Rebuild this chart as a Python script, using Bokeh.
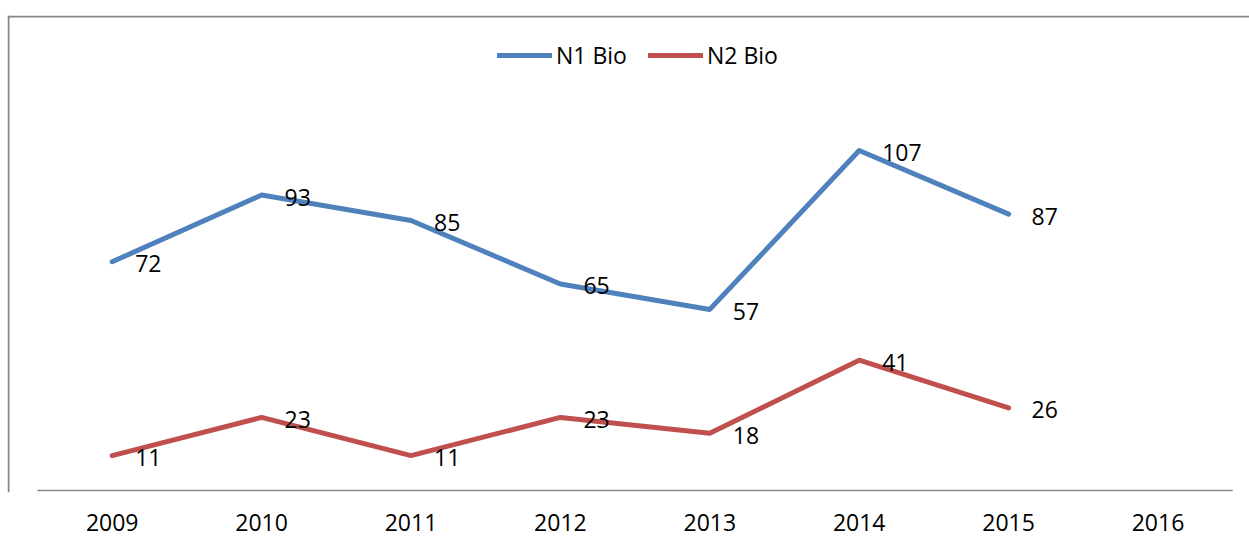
from bokeh.plotting import figure
from bokeh.models import Range1d, Span, Legend, LegendItem, FixedTicker, ColumnDataSource
from bokeh.core.properties import value
from bokeh.embed import file_html
from bokeh.resources import INLINE

years = ["2009", "2010", "2011", "2012", "2013", "2014", "2015", "2016"]
n1_bio = [72, 93, 85, 65, 57, 107, 87]
n2_bio = [11, 23, 11, 23, 18, 41, 26]

BLUE = "#4F81BD"
RED = "#C0504D"
GRAY = "#878787"
FONT = value("Open Sans")

PX_X = 149.4      # pixels per category
PX_Y = 3.177      # pixels per unit
W, H = 1249, 548
LEFT, TOP, BOTTOM = 7, 15, 56
FRAME_W = W - LEFT
FRAME_H = H - TOP - BOTTOM
X0 = -(111.7 - LEFT) / PX_X
X1 = X0 + FRAME_W / PX_X
Y0 = -2 / PX_Y
Y1 = (FRAME_H - 2) / PX_Y

p = figure(width=W, height=H, output_backend="svg", toolbar_location=None,
           x_range=Range1d(X0, X1), y_range=Range1d(Y0, Y1),
           min_border_left=LEFT, min_border_right=0, min_border_top=TOP, min_border_bottom=BOTTOM)
p.yaxis.visible = False
p.grid.visible = False
p.outline_line_color = None
p.background_fill_color = "white"
p.border_fill_color = "white"

xa = p.xaxis[0]
xa.ticker = FixedTicker(ticks=list(range(len(years))))
xa.major_label_overrides = {i: y for i, y in enumerate(years)}
xa.axis_line_color = None
xa.major_tick_line_color = None
xa.minor_tick_line_color = None
xa.major_label_text_font = "Open Sans"
xa.major_label_text_font_size = "23px"
xa.major_label_text_color = "black"
xa.major_label_standoff = 15

# chart border (left and top) and category axis line
p.add_layout(Span(location=X0 + 1 / PX_X, dimension="height", line_color=GRAY, line_width=2))
p.add_layout(Span(location=Y1 - 1 / PX_Y, dimension="width", line_color=GRAY, line_width=2))
p.segment(x0=[-0.5], y0=[0], x1=[len(years) - 0.5], y1=[0], line_color=GRAY, line_width=1.5)

xs = list(range(len(n1_bio)))
s1 = ColumnDataSource(dict(x=xs, y=n1_bio, t=[str(v) for v in n1_bio]))
s2 = ColumnDataSource(dict(x=xs, y=n2_bio, t=[str(v) for v in n2_bio]))

r1 = p.line("x", "y", source=s1, line_color=BLUE, line_width=5, line_cap="round", line_join="round")
r2 = p.line("x", "y", source=s2, line_color=RED, line_width=5, line_cap="round", line_join="round")

for s in (s1, s2):
    p.text("x", "y", text="t", source=s, x_offset=23, y_offset=2, text_align="left",
           text_baseline="middle", text_font=FONT, text_font_size="23px", text_color="black")

legend = Legend(items=[LegendItem(label="N1 Bio", renderers=[r1]),
                       LegendItem(label="N2 Bio", renderers=[r2])],
                location=(490, FRAME_H - 41 - 28 + 13), orientation="horizontal",
                glyph_width=55, glyph_height=28, label_height=28, label_standoff=4,
                spacing=21, padding=0, margin=0,
                label_text_font="Open Sans", label_text_font_size="23px",
                label_text_color="black",
                border_line_color=None, background_fill_alpha=0)
p.add_layout(legend)

open("out.html", "w").write(file_html(p, INLINE))
